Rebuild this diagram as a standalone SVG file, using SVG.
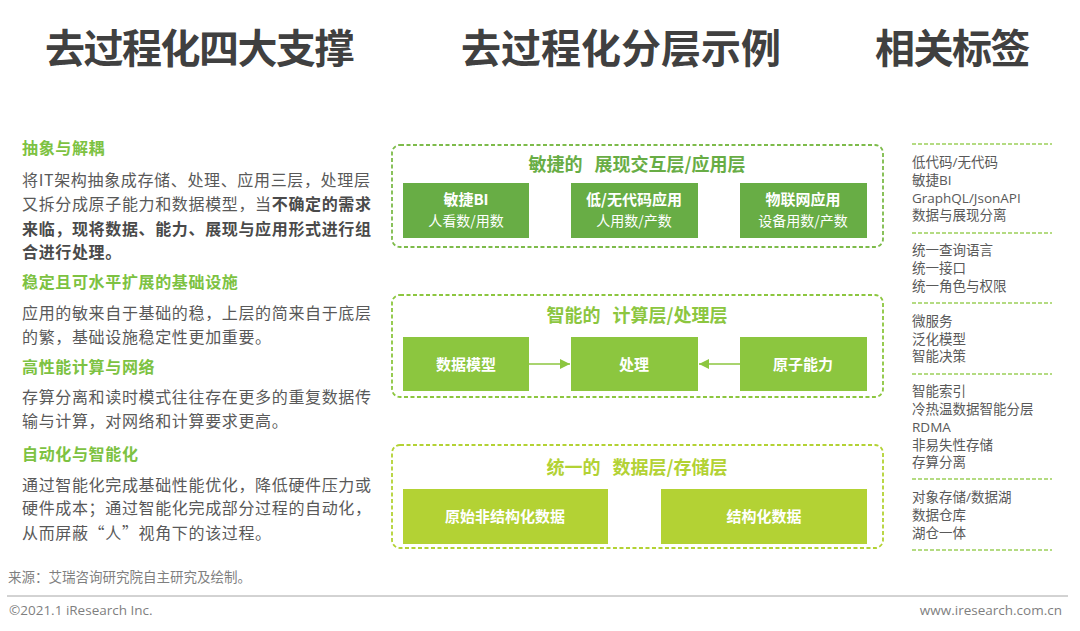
<svg xmlns="http://www.w3.org/2000/svg" width="1080" height="631" viewBox="0 0 1080 631">
<style>
.title{font-family:"Noto Sans CJK SC",sans-serif;font-size:40px;font-weight:700;fill:#404040;}
.h{font-family:"Noto Sans CJK SC",sans-serif;font-size:16px;font-weight:700;fill:#7dc242;letter-spacing:0.65px;}
.b{font-family:"Noto Sans CJK SC",sans-serif;font-size:16px;fill:#595959;letter-spacing:0.65px;}
.bb{font-weight:700;fill:#4a4a4a;}
.ptitle{font-family:"Noto Sans CJK SC",sans-serif;font-size:18px;font-weight:700;text-anchor:middle;}
.bx1{font-family:"Noto Sans CJK SC",sans-serif;font-size:15px;font-weight:700;fill:#fff;text-anchor:middle;}
.bx2{font-family:"Noto Sans CJK SC",sans-serif;font-size:14px;fill:#fff;text-anchor:middle;}
.tag{font-family:"Open Sans","Noto Sans CJK SC",sans-serif;font-size:13.5px;fill:#595959;}
.sep{stroke:#9ccf5a;stroke-width:1.5;stroke-dasharray:4 2;fill:none;}
.foot{font-family:"Open Sans","Noto Sans CJK SC",sans-serif;font-size:13.5px;fill:#7f7f7f;}
.conn{stroke:#8cc63f;stroke-width:1.5;fill:none;}
</style>
<defs>
<marker id="arr" viewBox="0 0 10 10" refX="10" refY="5" markerWidth="10" markerHeight="10" markerUnits="userSpaceOnUse" orient="auto">
<path d="M0,0 L10,5 L0,10 z" fill="#8cc63f"/>
</marker>
</defs>
<rect width="1080" height="631" fill="#ffffff"/>

<!-- titles -->
<text class="title" x="45" y="63" letter-spacing="-1.5">去过程化四大支撑</text>
<text class="title" x="461" y="63">去过程化分层示例</text>
<text class="title" x="875" y="63" letter-spacing="-1.5">相关标签</text>

<!-- left column -->
<g id="left">
<text class="h" x="22" y="154">抽象与解耦</text>
<text class="b" x="22" y="186">将IT架构抽象成存储、处理、应用三层，处理层</text>
<text class="b" x="22" y="210">又拆分成原子能力和数据模型，当<tspan class="bb">不确定的需求</tspan></text>
<text class="b bb" x="22" y="235">来临，现将数据、能力、展现与应用形式进行组</text>
<text class="b bb" x="22" y="258">合进行处理。</text>
<text class="h" x="22" y="288">稳定且可水平扩展的基础设施</text>
<text class="b" x="22" y="319">应用的敏来自于基础的稳，上层的简来自于底层</text>
<text class="b" x="22" y="343">的繁，基础设施稳定性更加重要。</text>
<text class="h" x="22" y="373">高性能计算与网络</text>
<text class="b" x="22" y="403">存算分离和读时模式往往存在更多的重复数据传</text>
<text class="b" x="22" y="427">输与计算，对网络和计算要求更高。</text>
<text class="h" x="22" y="460">自动化与智能化</text>
<text class="b" x="22" y="491">通过智能化完成基础性能优化，降低硬件压力或</text>
<text class="b" x="22" y="514">硬件成本；通过智能化完成部分过程的自动化，</text>
<text class="b" x="22" y="539">从而屏蔽“人”视角下的该过程。</text>
</g>

<!-- panel 1 -->
<g id="panel-app">
<rect x="392" y="145" width="491" height="102" rx="8" fill="none" stroke="#7dbb4a" stroke-width="1.8" stroke-dasharray="4 2.5"/>
<text class="ptitle" x="637" y="171" fill="#68ad45">敏捷的<tspan dx="12">展现交互层/应用层</tspan></text>
</g>
<g id="node-bi">
<rect x="403" y="183" width="126" height="55" fill="#68ad45"/>
<text class="bx1" x="466" y="205">敏捷BI</text>
<text class="bx2" x="466" y="226">人看数/用数</text>
</g>
<g id="node-lowcode">
<rect x="571" y="183" width="127" height="55" fill="#68ad45"/>
<text class="bx1" x="634" y="205">低/无代码应用</text>
<text class="bx2" x="634" y="226">人用数/产数</text>
</g>
<g id="node-iot">
<rect x="740" y="183" width="127" height="55" fill="#68ad45"/>
<text class="bx1" x="803" y="205">物联网应用</text>
<text class="bx2" x="803" y="226">设备用数/产数</text>
</g>

<!-- panel 2 -->
<g id="panel-compute">
<rect x="392" y="295" width="491" height="102" rx="8" fill="none" stroke="#8cc63f" stroke-width="1.8" stroke-dasharray="4 2.5"/>
<text class="ptitle" x="637" y="322" fill="#8cc63f">智能的<tspan dx="12">计算层/处理层</tspan></text>
</g>
<g id="node-model">
<rect x="403" y="337" width="126" height="54" fill="#8cc63f"/>
<text class="bx1" x="466" y="370">数据模型</text>
</g>
<g id="node-process">
<rect x="571" y="337" width="127" height="54" fill="#8cc63f"/>
<text class="bx1" x="634" y="370">处理</text>
</g>
<g id="node-atomic">
<rect x="740" y="337" width="127" height="54" fill="#8cc63f"/>
<text class="bx1" x="803" y="370">原子能力</text>
</g>

<!-- panel 3 -->
<g id="panel-data">
<rect x="392" y="445" width="491" height="103" rx="8" fill="none" stroke="#b3d234" stroke-width="1.8" stroke-dasharray="4 2.5"/>
<text class="ptitle" x="637" y="474" fill="#b3d234">统一的<tspan dx="12">数据层/存储层</tspan></text>
</g>
<g id="node-unstructured">
<rect x="403" y="489" width="205" height="55" fill="#b3d234"/>
<text class="bx1" x="505" y="522">原始非结构化数据</text>
</g>
<g id="node-structured">
<rect x="661" y="489" width="206" height="55" fill="#b3d234"/>
<text class="bx1" x="764" y="522">结构化数据</text>
</g>

<!-- connectors -->
<g id="connectors">
<line class="conn" x1="529" y1="364" x2="570" y2="364" marker-end="url(#arr)"/>
<line class="conn" x1="740" y1="364" x2="699" y2="364" marker-end="url(#arr)"/>
</g>

<!-- right column tags -->
<g id="tags">
<line class="sep" x1="912" y1="144" x2="1052" y2="144"/>
<text class="tag" x="912" y="167">低代码/无代码</text>
<text class="tag" x="912" y="185">敏捷BI</text>
<text class="tag" x="912" y="203">GraphQL/JsonAPI</text>
<text class="tag" x="912" y="220">数据与展现分离</text>
<line class="sep" x1="912" y1="233" x2="1052" y2="233"/>
<text class="tag" x="912" y="255">统一查询语言</text>
<text class="tag" x="912" y="273">统一接口</text>
<text class="tag" x="912" y="291">统一角色与权限</text>
<line class="sep" x1="912" y1="303" x2="1052" y2="303"/>
<text class="tag" x="912" y="326">微服务</text>
<text class="tag" x="912" y="344">泛化模型</text>
<text class="tag" x="912" y="361">智能决策</text>
<line class="sep" x1="912" y1="374" x2="1052" y2="374"/>
<text class="tag" x="912" y="396">智能索引</text>
<text class="tag" x="912" y="414">冷热温数据智能分层</text>
<text class="tag" x="912" y="432">RDMA</text>
<text class="tag" x="912" y="450">非易失性存储</text>
<text class="tag" x="912" y="467">存算分离</text>
<line class="sep" x1="912" y1="479" x2="1052" y2="479"/>
<text class="tag" x="912" y="502">对象存储/数据湖</text>
<text class="tag" x="912" y="520">数据仓库</text>
<text class="tag" x="912" y="538">湖仓一体</text>
<line class="sep" x1="912" y1="550" x2="1052" y2="550"/>
</g>

<!-- footer -->
<text class="foot" x="8" y="582">来源：艾瑞咨询研究院自主研究及绘制。</text>
<line x1="7" y1="596" x2="1068" y2="596" stroke="#a6a6a6" stroke-width="1"/>
<text class="foot" x="9" y="615">©2021.1 iResearch Inc.</text>
<text class="foot" x="1062" y="615" text-anchor="end">www.iresearch.com.cn</text>
</svg>
